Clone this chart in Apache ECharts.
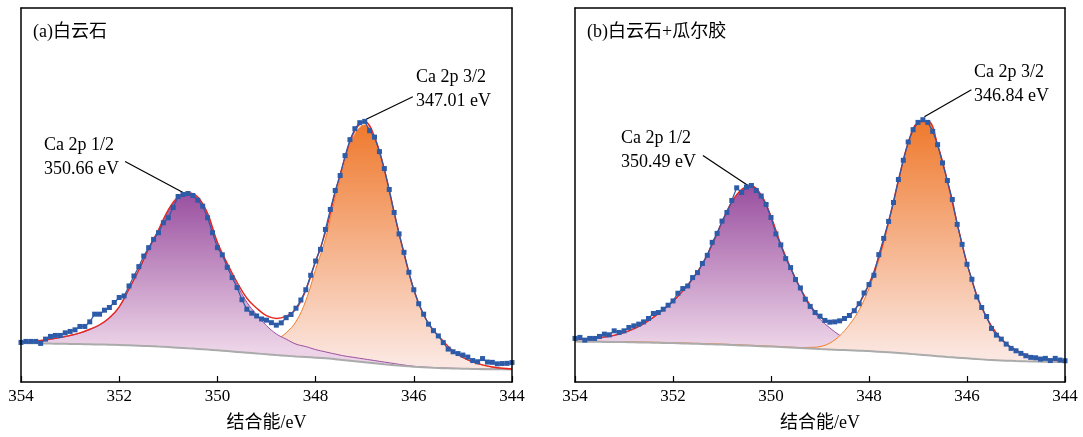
<!DOCTYPE html>
<html><head><meta charset="utf-8">
<script src="https://cdn.jsdelivr.net/npm/echarts@6/dist/echarts.min.js"></script>
<style>html,body{margin:0;padding:0;background:#fff}#c{width:1083px;height:437px}</style>
</head><body><div id="c"></div>
<script>
// ---------- data (intensity in arbitrary units) ----------
const energyRaw = [354.0,353.9,353.8,353.7,353.6,353.5,353.4,353.3,353.2,353.1,
353.0,352.9,352.8,352.7,352.6,352.5,352.4,352.3,352.2,352.1,
352.0,351.9,351.8,351.7,351.6,351.5,351.4,351.3,351.2,351.1,
351.0,350.9,350.8,350.7,350.6,350.5,350.4,350.3,350.2,350.1,
350.0,349.9,349.8,349.7,349.6,349.5,349.4,349.3,349.2,349.1,
349.0,348.9,348.8,348.7,348.6,348.5,348.4,348.3,348.2,348.1,
348.0,347.9,347.8,347.7,347.6,347.5,347.4,347.3,347.2,347.1,
347.0,346.9,346.8,346.7,346.6,346.5,346.4,346.3,346.2,346.1,
346.0,345.9,345.8,345.7,345.6,345.5,345.4,345.3,345.2,345.1,
345.0,344.9,344.8,344.7,344.6,344.5,344.4,344.3,344.2,344.1,
344.0];
const energyFit = [354.0,353.8,353.6,353.4,353.2,353.0,352.8,352.6,352.4,352.2,352.0,
351.8,351.6,351.4,351.2,351.0,350.8,350.6,350.4,350.2,350.0,
349.8,349.6,349.4,349.2,349.0,348.8,348.6,348.4,348.2,348.0,
347.8,347.6,347.4,347.2,347.0,346.8,346.6,346.4,346.2,346.0,
345.8,345.6,345.4,345.2,345.0,344.8,344.6,344.4,344.2,344.0];

// (a) 白云石
const rawA = [39.7,40.7,40.7,40.7,38.7,43.0,45.7,46.7,46.7,49.3,
50.7,52.3,55.7,55.7,60.3,68.0,68.0,72.0,74.7,79.7,
84.7,86.3,96.3,106.3,115.7,126.3,134.7,143.0,149.7,159.7,
164.7,175.0,186.0,188.0,189.0,187.0,182.3,176.3,164.7,149.7,
134.7,127.5,115.0,104.7,94.7,82.5,73.0,69.0,66.2,63.2,
62.0,59.5,57.0,59.3,64.5,67.7,74.0,82.2,92.5,107.0,
121.3,133.0,153.0,173.0,192.0,207.0,227.0,243.0,254.0,260.0,
261.3,252.0,245.5,231.0,214.0,193.0,170.0,148.5,130.0,110.0,
92.5,78.5,68.0,58.0,51.5,46.2,39.5,33.0,30.3,28.5,
27.0,25.0,21.5,20.3,23.5,20.0,19.7,18.2,18.5,18.7,
19.5];
const bgA = [39.0,38.8,38.7,38.5,38.4,38.2,38.0,37.8,37.6,37.4,37.2,
36.8,36.4,36.0,35.5,35.0,34.4,33.8,33.2,32.5,31.8,
31.0,30.2,29.4,28.6,27.8,27.0,26.3,25.6,25.0,24.4,
23.7,22.8,21.8,20.8,19.8,18.8,17.8,16.9,16.1,15.4,
14.8,14.3,13.9,13.6,13.3,13.1,12.9,12.8,12.7,12.6];
const ca12A = [39.6,40.4,41.4,42.8,44.4,46.4,49.0,52.5,57.0,64.0,75.0,
93.0,112.0,133.0,152.0,172.0,185.0,189.0,184.5,168.0,139.0,
117.5,97.5,80.0,67.5,56.5,48.2,43.0,38.0,35.5,32.5,
30.2,28.0,26.0,24.5,23.0,21.5,20.0,18.5,17.0,15.8,
15.0,14.4,14.0,13.7,13.4,13.2,13.0,12.9,12.8,12.7];
const ca32A = [39.2,39.1,39.0,38.8,38.7,38.5,38.3,38.2,38.0,37.8,37.6,
37.3,37.0,36.6,36.2,35.7,35.2,34.7,34.2,33.6,32.8,
32.5,32.7,33.4,35.1,37.8,42.5,49.3,60.6,81.5,112.9,
143.5,184.8,220.8,248.3,257.8,243.3,210.8,168.4,128.1,92.1,
67.2,51.9,40.9,31.0,24.5,20.0,17.0,15.0,13.7,13.0];

// (b) 白云石+瓜尔胶
const rawB = [43.7,44.7,42.0,43.7,43.7,45.7,48.0,47.3,51.3,49.7,
51.3,54.7,56.3,58.0,60.3,63.7,68.7,69.7,73.0,77.0,
81.3,89.0,93.7,96.3,104.7,109.7,118.8,127.0,140.0,149.0,
161.3,170.0,182.0,194.7,190.0,195.5,197.0,192.0,186.5,178.0,
165.0,148.5,137.5,123.7,114.7,102.7,94.3,83.0,75.8,69.7,
66.0,61.7,60.0,60.3,61.3,63.7,66.7,71.5,78.5,89.3,
97.7,107.0,127.7,144.0,161.0,180.0,203.0,222.3,240.7,253.0,
260.3,263.0,260.3,251.3,238.0,219.7,202.0,183.0,158.0,138.0,
118.0,103.0,85.3,74.7,65.7,53.7,47.0,43.0,38.0,33.7,
31.3,28.7,26.3,24.7,24.3,23.0,23.7,21.5,23.7,22.0,
21.3];
const bgB = [40.5,40.4,40.3,40.2,40.1,40.0,39.8,39.6,39.4,39.2,39.0,
38.7,38.4,38.1,37.8,37.5,37.1,36.7,36.3,35.9,35.5,
35.0,34.5,34.0,33.5,33.0,32.6,32.2,31.8,31.4,31.0,
30.4,29.8,29.2,28.4,27.5,26.7,25.9,25.1,24.4,23.7,
23.0,22.4,21.9,21.4,21.0,20.7,20.5,20.3,20.1,20.0];
const ca12B = [42.2,42.7,43.5,44.7,46.5,49.2,53.0,58.0,64.5,72.0,80.5,
91.0,103.0,118.0,137.5,160.0,180.0,192.5,196.0,187.0,165.5,
137.5,114.0,93.4,75.8,63.0,54.3,46.9,41.0,37.5,35.0,
33.0,31.7,30.5,29.5,28.5,27.6,26.6,25.7,24.9,24.1,
23.3,22.6,22.1,21.6,21.2,20.9,20.6,20.4,20.2,20.1];
const ca32B = [41.0,40.9,40.8,40.7,40.6,40.5,40.3,40.1,39.9,39.7,39.5,
39.2,38.9,38.6,38.3,38.0,37.6,37.2,36.8,36.4,36.0,
35.5,35.0,34.6,34.7,35.5,39.0,46.3,57.5,72.4,94.0,
122.4,159.1,200.7,238.9,259.0,260.6,237.3,200.9,158.5,118.6,
86.7,64.3,48.8,38.3,31.8,27.3,24.4,22.6,21.6,20.9];

const xTicks = [354, 352, 350, 348, 346, 344];
const panelTitles = ['(a)白云石', '(b)白云石+瓜尔胶'];
const peakNames = ['Ca 2p 1/2', 'Ca 2p 3/2'];
const peakEnergiesA = ['350.66 eV', '347.01 eV'];
const peakEnergiesB = ['350.49 eV', '346.84 eV'];
// leader lines: [label-side energy, label-side intensity, peak energy, peak intensity]
const leadersA = [[351.88, 221, 350.70, 190], [346.02, 286, 346.99, 263]];
const leadersB = [[351.39, 227, 350.47, 197], [345.91, 293, 346.87, 266]];

// ---------- chart ----------
const FONT = "'Liberation Serif','Times New Roman','Noto Sans CJK SC',serif";
const chart = echarts.init(document.getElementById('c'), null, {renderer: 'canvas'});
const pair = (xs, ys) => xs.map((x, i) => [x, ys[i]]);
const SM = 0.4;
const PURPLE = {line: '#9b4ea0', g0: '#9a50a0', g1: '#ecd3e7'};
const ORANGE = {line: '#f27e2c', g0: '#ef7a2e', g1: '#fbe7e1'};

function panel(k, raw, bg, p12, p32, p12OnTop, leaders) {
  const xa = 2 * k, ya = 2 * k;
  const area = (vals, col, z) => {
    const mx = Math.max.apply(null, vals);
    const i = vals.indexOf(mx);
    const stop = Math.max(0.05, Math.min(0.99, (mx - bg[i]) / mx));
    return {type: 'line', xAxisIndex: xa, yAxisIndex: ya, data: pair(energyFit, vals),
      symbol: 'none', smooth: SM, lineStyle: {color: col.line, width: 1},
      areaStyle: {origin: 'start', opacity: 1, color: new echarts.graphic.LinearGradient(0, 0, 0, 1,
        [{offset: 0, color: col.g0}, {offset: stop, color: col.g1}, {offset: 1, color: col.g1}])},
      z: z};
  };
  const a12 = area(p12, PURPLE, p12OnTop ? 3 : 2);
  const a32 = area(p32, ORANGE, p12OnTop ? 2 : 3);
  const env = p12.map((v, i) => +(v + p32[i] - bg[i]).toFixed(2));
  return [p12OnTop ? a32 : a12, p12OnTop ? a12 : a32,
    // Shirley background line; white fill below it masks the area under the background
    {type: 'line', xAxisIndex: xa, yAxisIndex: ya, data: pair(energyFit, bg), symbol: 'none', smooth: SM,
     lineStyle: {color: '#ababab', width: 2}, areaStyle: {origin: 'start', color: '#fff', opacity: 1}, z: 4},
    {type: 'line', xAxisIndex: xa, yAxisIndex: ya, data: pair(energyFit, env), symbol: 'none', smooth: SM,
     lineStyle: {color: '#e8281f', width: 1.4}, z: 5},
    {type: 'line', xAxisIndex: xa, yAxisIndex: ya, data: pair(energyRaw, raw), symbol: 'rect', symbolSize: 5,
     itemStyle: {color: '#2d5ba8'}, lineStyle: {color: '#2d5ba8', width: 1.2}, z: 6,
     markLine: {silent: true, symbol: ['none', 'none'], label: {show: false},
       lineStyle: {color: '#000', width: 1.2, type: 'solid'},
       data: leaders.map(l => [{coord: [l[0], l[1]]}, {coord: [l[2], l[3]]}])}}
  ];
}

const grids = [
  {left: 21, top: 8, width: 491, height: 375},
  {left: 575, top: 8, width: 490, height: 375}
];
const xAxes = [], yAxes = [];
grids.forEach((g, k) => {
  xAxes.push({gridIndex: k, type: 'value', min: 344, max: 354, interval: 2, inverse: true, position: 'bottom',
    z: 10, splitLine: {show: false},
    axisLine: {show: true, onZero: false, lineStyle: {color: '#000', width: 1.5}},
    axisTick: {show: true, inside: true, length: 6, lineStyle: {color: '#000', width: 1.2}},
    axisLabel: {show: true, margin: 6, fontSize: 17, color: '#000', fontFamily: FONT,
      formatter: v => xTicks.includes(v) ? String(v) : ''},
    name: '结合能/eV', nameLocation: 'middle', nameGap: 32,
    nameTextStyle: {fontSize: 18, color: '#000', fontFamily: FONT}});
  xAxes.push({gridIndex: k, type: 'value', min: 344, max: 354, inverse: true, position: 'top', z: 10,
    splitLine: {show: false}, axisTick: {show: false}, axisLabel: {show: false},
    axisLine: {show: true, onZero: false, lineStyle: {color: '#000', width: 1.5}}});
  yAxes.push({gridIndex: k, type: 'value', min: 0, max: 375, position: 'left', z: 10,
    splitLine: {show: false}, axisTick: {show: false}, axisLabel: {show: false},
    axisLine: {show: true, onZero: false, lineStyle: {color: '#000', width: 1.5}}});
  yAxes.push({gridIndex: k, type: 'value', min: 0, max: 375, position: 'right', z: 10,
    splitLine: {show: false}, axisTick: {show: false}, axisLabel: {show: false},
    axisLine: {show: true, onZero: false, lineStyle: {color: '#000', width: 1.5}}});
});

const textStyle = {font: "18px " + FONT, fill: '#000', lineHeight: 24};
const graphic = [
  {type: 'text', left: 33, top: 20, z: 20, style: Object.assign({text: panelTitles[0]}, textStyle)},
  {type: 'text', left: 587, top: 20, z: 20, style: Object.assign({text: panelTitles[1]}, textStyle)},
  {type: 'text', left: 44, top: 133, z: 20, style: Object.assign({text: peakNames[0] + '\n' + peakEnergiesA[0]}, textStyle)},
  {type: 'text', left: 416, top: 65, z: 20, style: Object.assign({text: peakNames[1] + '\n' + peakEnergiesA[1]}, textStyle)},
  {type: 'text', left: 621, top: 126, z: 20, style: Object.assign({text: peakNames[0] + '\n' + peakEnergiesB[0]}, textStyle)},
  {type: 'text', left: 974, top: 60, z: 20, style: Object.assign({text: peakNames[1] + '\n' + peakEnergiesB[1]}, textStyle)}
];

chart.setOption({
  animation: false,
  backgroundColor: '#fff',
  grid: grids,
  xAxis: xAxes,
  yAxis: yAxes,
  graphic: graphic,
  series: [].concat(
    panel(0, rawA, bgA, ca12A, ca32A, true, leadersA),
    panel(1, rawB, bgB, ca12B, ca32B, false, leadersB)
  )
});
</script></body></html>
